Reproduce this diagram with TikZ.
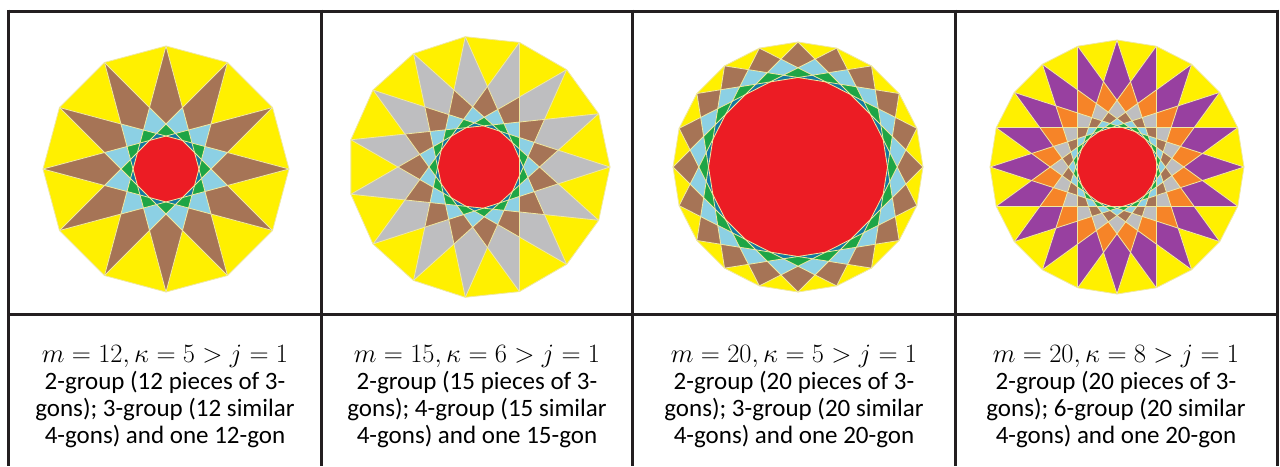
\documentclass[tikz,border=0pt]{standalone}
\usepackage{graphicx}
\usepackage{fontspec}
\setmainfont{Carlito}
\definecolor{syellow}{RGB}{255,240,0}
\definecolor{sbrown}{RGB}{166,116,86}
\definecolor{slblue}{RGB}{140,208,228}
\definecolor{sgreen}{RGB}{30,165,70}
\definecolor{steal}{RGB}{20,120,160}
\definecolor{sred}{RGB}{236,28,36}
\definecolor{sgray}{RGB}{190,190,192}
\definecolor{spurple}{RGB}{152,64,160}
\definecolor{sorange}{RGB}{246,132,40}
\definecolor{linecol}{RGB}{240,232,160}
\definecolor{framecol}{RGB}{35,31,32}
\tikzset{
  frameline/.style={line width=3pt, draw=framecol},
  chordline/.style={draw=linecol, line width=0.8pt},
  captext/.style={align=center, font=\fontsize{25}{27}\selectfont, inner sep=0pt}
}
\newcommand\mathline[1]{\scalebox{1.065}{$#1$}}
% #1 cx, #2 cy, #3 R, #4 m, #5 kappa, #6 phi0, #7 list depth/colour
\newcommand\starfig[7]{%
  \pgfmathsetmacro\stH{#3*cos(180*#5/#4)}%
  \pgfmathtruncatemacro\stN{2*#4-1}%
  \pgfmathtruncatemacro\stM{#4-1}%
  \fill[syellow] plot[variable=\j, samples at={0,...,\stM}]
    ({#1+#3*cos(#6+\j*360/#4)},{#2+#3*sin(#6+\j*360/#4)}) -- cycle;
  \foreach \d/\c in {#7} {
    \fill[\c] plot[variable=\j, samples at={0,...,\stN}]
      ({#1+\stH/cos(180*(\d+mod(\j,2))/#4)*cos(#6+(\j/2+(\d+#5)/2)*360/#4)},
       {#2+\stH/cos(180*(\d+mod(\j,2))/#4)*sin(#6+(\j/2+(\d+#5)/2)*360/#4)}) -- cycle;
  }
  \foreach \a in {0,...,\stM} {
    \draw[chordline] ({#1+#3*cos(#6+\a*360/#4)},{#2+#3*sin(#6+\a*360/#4)})
      -- ({#1+#3*cos(#6+(\a+#5)*360/#4)},{#2+#3*sin(#6+(\a+#5)*360/#4)});
  }
  \draw[chordline] plot[variable=\j, samples at={0,...,\stM}]
    ({#1+#3*cos(#6+\j*360/#4)},{#2+#3*sin(#6+\j*360/#4)}) -- cycle;
}
\begin{document}
\begin{tikzpicture}[x=1pt,y=-1pt]
\useasboundingbox[fill=white] (0,0) rectangle (1280,466);

\starfig{166}{169}{123}{12}{5}{90}{4/sbrown,3/slblue,2/sgreen,1/steal,0/sred}
\starfig{479}{167}{131}{15}{6}{0}{5/sgray,4/sbrown,3/slblue,2/sgreen,1/steal,0/sred}
\starfig{798}{167}{125}{20}{5}{90}{4/sbrown,3/slblue,2/sgreen,1/steal,0/sred}
\starfig{1117}{167}{127}{20}{8}{90}{7/spurple,6/sorange,5/sgray,4/sbrown,3/slblue,2/sgreen,1/steal,0/sred}

% table frame
\coordinate (tl) at (7,11);
\coordinate (tr) at (1278.5,11);
\coordinate (ml) at (7,314);
\coordinate (mr) at (1278.5,314);
\draw[frameline] (tl) -- (tr);
\draw[frameline] (ml) -- (mr);
\foreach \x in {8.5,321.5,632.5,955.5,1277} {
  \draw[frameline] (\x,9.5) -- (\x,466);
}

\node[captext] (c1) at (165,396) {\mathline{m = 12, \kappa = 5 > j = 1}\\2-group (12 pieces of 3-\\gons); 3-group (12 similar\\4-gons) and one 12-gon};
\node[captext] (c2) at (477,396) {\mathline{m = 15, \kappa = 6 > j = 1}\\2-group (15 pieces of 3-\\gons); 4-group (15 similar\\4-gons) and one 15-gon};
\node[captext] (c3) at (794,396) {\mathline{m = 20, \kappa = 5 > j = 1}\\2-group (20 pieces of 3-\\gons); 3-group (20 similar\\4-gons) and one 20-gon};
\node[captext] (c4) at (1116,396) {\mathline{m = 20, \kappa = 8 > j = 1}\\2-group (20 pieces of 3-\\gons); 6-group (20 similar\\4-gons) and one 20-gon};
\end{tikzpicture}
\end{document}
